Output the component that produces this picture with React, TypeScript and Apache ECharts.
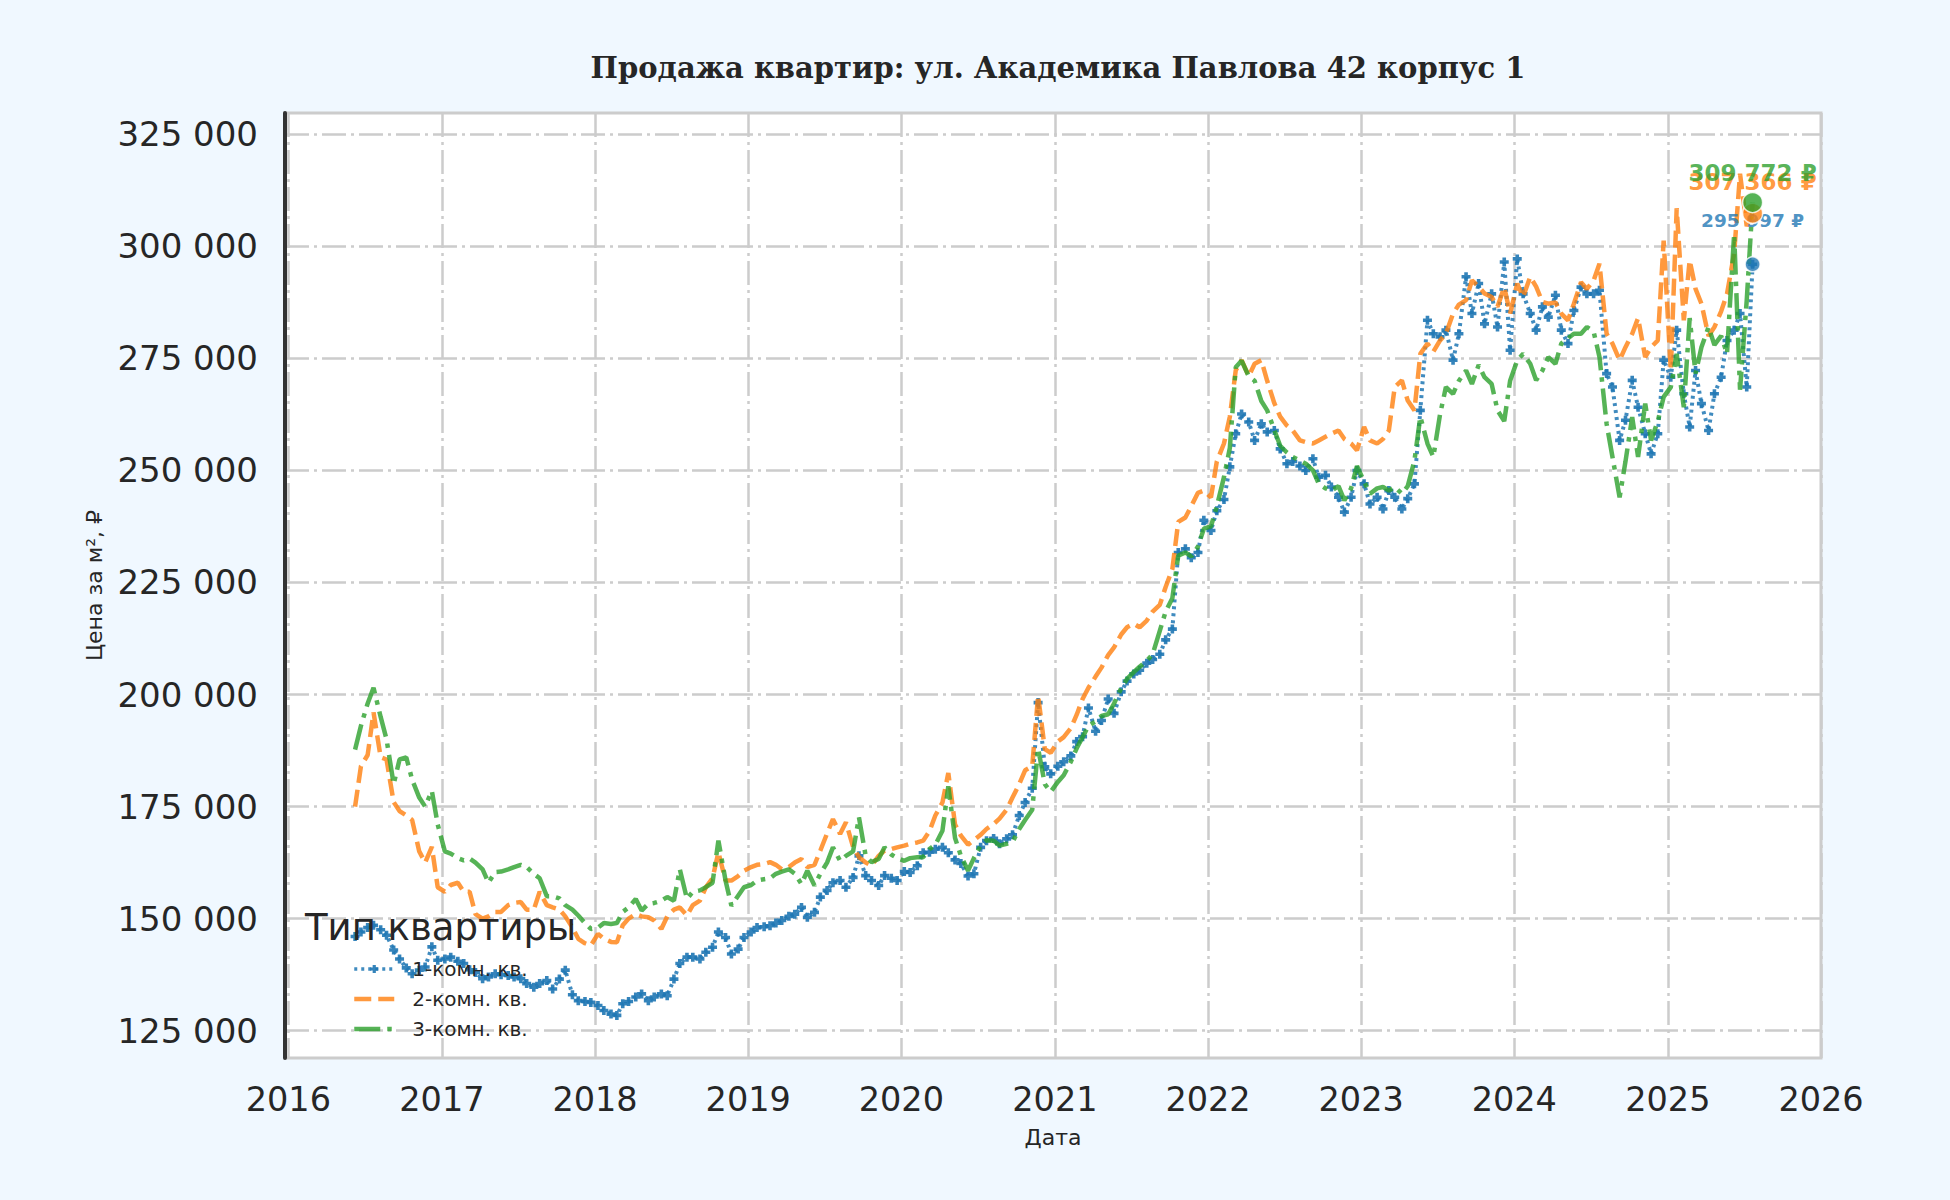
import React, { useEffect, useRef } from "react";
import * as echarts from "echarts";

// ---------- data ----------
const TITLE = "Продажа квартир: ул. Академика Павлова 42 корпус 1";
const SERIES_NAMES = ["1-комн. кв.", "2-комн. кв.", "3-комн. кв."];
const COLORS = ["#1f77b4", "#ff7f0e", "#2ca02c"];
const Y_TICKS = [125000, 150000, 175000, 200000, 225000, 250000, 275000, 300000, 325000];
const X_YEARS = [2016, 2017, 2018, 2019, 2020, 2021, 2022, 2023, 2024, 2025, 2026];

// Observation dates: the 8th and 22nd of each month, June 2016 .. July 2025
const FIRST_MONTH = { year: 2016, month: 6 };
const LAST_MONTH = { year: 2025, month: 7 };
const OBS_DAYS = [8, 22];

// Price per m², thousands of ₽ (one value per observation date)
const oneRoomK = [
  // 2016 (Jun-Dec)
  146, 147, 148, 148.5, 147.5, 146.3, 143, 141, 139, 137.7, 138.5, 139.2, 143.7, 140.7,
  // 2017
  141, 141.4, 140.5, 140, 138.6, 138, 136.6, 137, 137.7, 137.5, 137.3, 137,
  136.6, 135.5, 134.7, 135.5, 136.2, 134.3, 136.5, 138.5, 133, 131.7, 131.5, 131.3,
  // 2018
  130.6, 129.5, 128.7, 128.4, 131, 131.5, 132.5, 133.2, 131.7, 132.5, 133.2, 132.8,
  136.5, 140, 141.4, 141.4, 141, 142.5, 143.6, 147, 145.8, 142.1, 143.2, 145.8,
  // 2019
  147, 148, 148.2, 148.4, 149, 149.6, 150.5, 151, 152.5, 150.3, 151.4, 154.8,
  156.3, 158, 158.5, 157, 159.2, 164, 159.6, 158.5, 157.4, 159.6, 159, 158.5,
  // 2020
  160.5, 160.3, 161.8, 164.7, 164.8, 165.5, 165.9, 164.7, 163.1, 162.3, 159.5, 160,
  165.9, 167.4, 167.9, 166.7, 167.8, 168.7, 173, 175.9, 179.1, 198.2, 183.9, 182.3,
  // 2021
  184, 185, 186.3, 189.5, 190.6, 197, 191.8, 194.2, 199, 195.8, 200.6, 203,
  204.6, 205.4, 207, 207.8, 209, 212.2, 214.6, 231.7, 232.5, 230.5, 231.7, 238.9,
  // 2022
  236.6, 241, 243.5, 250.8, 258.2, 262.6, 260.8, 256.7, 260.4, 258.6, 258.9, 254.8,
  251.5, 252, 251, 250, 252.6, 248.5, 248.9, 246.3, 244, 240.7, 244, 250,
  // 2023
  247, 242.5, 244, 241.4, 245.5, 244, 241.4, 243.7, 247, 263.4, 283.5, 280.5,
  279.8, 281.3, 274.6, 280.5, 293.2, 285, 291.7, 282.7, 289.4, 282, 296.5, 276.8,
  // 2024
  297.2, 289.4, 285, 281.3, 286.5, 284.2, 289.1, 281.3, 278.3, 285.7, 290.9, 289.4,
  289.4, 290.2, 271.6, 268.6, 256.7, 261.2, 270.1, 264.1, 258.2, 253.7, 258.2, 274.6,
  // 2025 (Jan-Jul)
  270.8, 281.3, 267.1, 259.7, 272.3, 264.9, 258.9, 267.1, 270.8, 279, 281.3, 285, 268.6, 295.997,
];

const twoRoomK = [
  // 2016
  175, 184, 186.5, 196, 186, 185.5, 176, 174, 173, 172, 165, 162.5, 166, 157,
  // 2017
  156, 157.5, 158, 156, 156, 151, 150, 150.5, 151.5, 151.5, 153, 153.5,
  153.7, 152, 152, 156, 153, 152.5, 152, 150.5, 148, 145.5, 144.5, 144,
  // 2018
  146.6, 145.5, 144.8, 144.7, 148.5, 150, 151, 150.5, 150.3, 149.6, 147.7, 150.5,
  152, 152.5, 150.7, 153, 154, 157, 159, 164.8, 158.5, 158.5, 159.5, 160.7,
  // 2019
  161.5, 162, 162.2, 162.6, 162, 161, 161.5, 162.5, 163.3, 161.5, 162, 165.2,
  169, 172.2, 168.9, 171.5, 166, 163.7, 162.5, 161.8, 164, 165.2, 165.5, 165.9,
  // 2020
  166.3, 166.7, 167, 167.4, 169.5, 173, 175.9, 182.5, 171, 168.5, 166.5, 167.5,
  168.7, 170, 171.1, 172.3, 174.3, 177, 180, 183.1, 184, 199.8, 187.8, 187,
  // 2021
  189.5, 190.5, 192.5, 195.5, 199, 201.5, 204, 206, 208.8, 210.5, 213.4, 215,
  215.8, 215, 216.5, 218.5, 220, 224, 228, 238.5, 239.5, 242, 245, 245.5,
  // 2022
  244, 252, 256, 262, 272.3, 274.6, 271, 273.8, 274.6, 270, 265, 262,
  260, 258.9, 256.7, 256.3, 256, 256.7, 257.5, 258.2, 258.9, 257, 256, 254.5,
  // 2023
  259.7, 256.7, 256, 257, 258.9, 268.6, 270.1, 265.6, 263.4, 276, 278.3, 276.5,
  279, 280.5, 285, 287, 288, 292.4, 291, 289.5, 288.7, 286.5, 290.9, 285,
  // 2024
  291.7, 288.7, 293.2, 291, 287.6, 287.2, 287.5, 285, 283.5, 287.2, 292, 290.5,
  292.4, 296.1, 280.5, 278.3, 274.6, 277.5, 280.5, 284, 275.3, 277.5, 279, 301.3,
  // 2025
  272.3, 308.5, 283.5, 296.9, 290.5, 287.2, 280, 282, 285.5, 289.4, 298.4, 316.2, 304.5, 307.366,
];

const threeRoomK = [
  // 2016
  187.7, 193, 198, 201.5, 195, 190, 180, 185.5, 186, 181, 177, 175, 178.5, 171,
  // 2017
  165, 164.5, 163.5, 163, 163.4, 162.5, 161, 158, 160.4, 160.5, 161, 161.5,
  162, 161.5, 160, 159, 155, 155, 154.5, 153, 152, 150.7, 149, 147.7,
  // 2018
  148, 149, 148.8, 149, 151.5, 152.5, 154.4, 151.8, 153.3, 153.5, 154, 154.8,
  154, 161, 154.4, 156, 156.3, 157, 158, 167.4, 158.5, 152.9, 155.1, 157,
  // 2019
  157.5, 158.5, 158.8, 159, 160, 160.5, 161, 160, 157.7, 160.7, 157.4, 160,
  162.5, 165.9, 162.9, 164, 165, 172.6, 164, 162.6, 163.3, 165.9, 164.3, 163.5,
  // 2020
  162.9, 163.5, 163.7, 163.7, 165.5, 166.5, 169.6, 179.5, 168, 164, 160.7, 163.5,
  166.3, 167.5, 167.4, 166.3, 166.7, 167.1, 170, 172, 174.3, 188, 180, 178.3,
  // 2021
  180.5, 182, 185, 188, 190.5, 193, 194, 195.2, 195.6, 198, 201.4, 203.5,
  205, 206.2, 207.5, 209, 214.2, 218.5, 221.5, 231, 231.7, 230.8, 233, 237,
  // 2022
  237.5, 242, 248.5, 255, 273, 274.5, 271, 270, 265.5, 263.4, 259, 255.5,
  254, 253, 252.2, 251.5, 250, 247, 246, 245.5, 246.5, 243.3, 246, 251,
  // 2023
  247.5, 244.8, 246, 246.3, 245.5, 246.3, 244.8, 246.5, 252.2, 262, 256, 253,
  262.5, 268.6, 267.1, 270, 272.3, 269.3, 273.5, 270.8, 269.3, 263.4, 261, 270,
  // 2024
  274.6, 276, 273.8, 270.1, 272.3, 275.3, 273.8, 278.3, 279.5, 280.5, 280.5, 282,
  281, 275.3, 260.4, 253, 244, 252, 261.9, 253, 264.9, 256.7, 261, 266.4,
  // 2025
  268.6, 276, 264.1, 284, 271.6, 277.5, 282, 278, 280, 276, 302.8, 268, 288, 309.772,
];

// ---------- helpers ----------
const SANS = "'DejaVu Sans', sans-serif";
const SERIF = "'DejaVu Serif', serif";
const TEXT = "#262626";

function buildDates(): number[] {
  const out: number[] = [];
  for (let y = FIRST_MONTH.year; y <= LAST_MONTH.year; y++) {
    for (let m = 1; m <= 12; m++) {
      if (y === FIRST_MONTH.year && m < FIRST_MONTH.month) continue;
      if (y === LAST_MONTH.year && m > LAST_MONTH.month) continue;
      for (const d of OBS_DAYS) out.push(new Date(y, m - 1, d).getTime());
    }
  }
  return out;
}

const fmt = (v: number) =>
  String(Math.round(v)).replace(/\B(?=(\d{3})+(?!\d))/g, " ");

const PLUS = "path://M3,0H7V3H10V7H7V10H3V7H0V3H3Z";

export default function App() {
  const ref = useRef<HTMLDivElement>(null);

  useEffect(() => {
    if (!ref.current) return;
    const chart = echarts.init(ref.current, undefined, { renderer: "svg" });
    const dates = buildDates();
    const toPairs = (arr: number[]) =>
      arr.map((v, i) => [dates[i], Math.round(v * 1000)]);
    const all = [oneRoomK, twoRoomK, threeRoomK].map(toPairs);
    const yearTicks = X_YEARS.map((y) => new Date(y, 0, 1).getTime());

    const lineStyles = [
      { width: 4, type: [3, 4], opacity: 0.85 },
      { width: 4.5, type: [17, 7], opacity: 0.8 },
      { width: 4.5, type: [26, 7, 4.5, 7], opacity: 0.8 },
    ];

    const lineSeries = all.map((data, i) => ({
      type: "line",
      name: SERIES_NAMES[i],
      data,
      symbol: i === 0 ? PLUS : "circle",
      symbolSize: 9,
      showSymbol: i === 0,
      itemStyle: { color: COLORS[i], opacity: 0.9 },
      lineStyle: { color: COLORS[i], ...lineStyles[i] },
      silent: true,
      z: 2 + i,
    }));

    const labelCfg = [
      { fontSize: 18.5, distance: 26, size: 15 },
      { fontSize: 23, distance: 9, size: 20 },
      { fontSize: 23, distance: 7, size: 20 },
    ];
    const pointSeries = all.map((data, i) => ({
      type: "scatter",
      data: [data[data.length - 1]],
      symbol: "circle",
      symbolSize: labelCfg[i].size,
      itemStyle: { color: COLORS[i], borderColor: "#ffffff", borderWidth: 1.5 },
      label: {
        show: true,
        position: "top",
        distance: labelCfg[i].distance,
        formatter: (p: any) => fmt(p.value[1]) + " ₽",
        fontFamily: SANS,
        fontWeight: "bold",
        fontSize: labelCfg[i].fontSize,
        color: COLORS[i],
      },
      silent: true,
      z: 10 + i,
    }));

    const option = {
      animation: false,
      backgroundColor: "#f0f8ff",
      title: {
        text: TITLE,
        left: 1053,
        top: 48,
        textAlign: "center",
        textStyle: { fontFamily: SERIF, fontWeight: "bold", fontSize: 29, color: TEXT },
      },
      grid: {
        left: 285,
        right: 129,
        top: 113,
        bottom: 142,
        show: true,
        backgroundColor: "#ffffff",
        borderColor: "#cccccc",
        borderWidth: 3,
        outerBoundsMode: "none",
        containLabel: false,
      },
      legend: {
        data: SERIES_NAMES.map((n, i) =>
          i === 0
            ? { name: n, lineStyle: { width: 3.5 } }
            : { name: n, itemStyle: { opacity: 0 }, lineStyle: { width: 4.5 } }
        ),
        orient: "vertical",
        left: 352,
        top: 959,
        itemWidth: 40,
        itemHeight: 10,
        itemGap: 10,
        padding: 0,
        selectedMode: false,
        textStyle: {
          fontFamily: SANS,
          fontSize: 20,
          color: TEXT,
          lineHeight: 20,
          padding: [0, 0, 0, 13],
        },
      },
      graphic: [
        {
          type: "text",
          left: 305,
          top: 909,
          silent: true,
          style: { text: "Тип квартиры", fontFamily: SANS, fontSize: 37, fill: TEXT },
          z: 100,
        },
      ],
      xAxis: {
        type: "value",
        min: new Date(2015, 11, 24).getTime(),
        max: new Date(2026, 0, 1).getTime(),
        name: "Дата",
        nameLocation: "middle",
        nameGap: 68,
        nameTextStyle: { fontFamily: SANS, fontSize: 22, color: TEXT },
        axisLine: { show: false },
        axisTick: { show: false, customValues: yearTicks },
        axisLabel: {
          customValues: yearTicks,
          formatter: (v: number) => String(new Date(v).getFullYear()),
          fontFamily: SANS,
          fontSize: 33.5,
          color: TEXT,
          margin: 24,
          hideOverlap: false,
        },
        splitLine: {
          show: true,
          lineStyle: { color: "#cccccc", width: 2.5, type: [24, 5, 3, 5] },
        },
      },
      yAxis: {
        type: "value",
        min: 118900,
        max: 329750,
        name: "Цена за м², ₽",
        nameLocation: "middle",
        nameGap: 180,
        nameTextStyle: { fontFamily: SANS, fontSize: 22, color: TEXT },
        axisLine: { show: true, onZero: false, lineStyle: { color: "#333333", width: 4 } },
        axisTick: { show: false, customValues: Y_TICKS },
        axisLabel: {
          customValues: Y_TICKS,
          formatter: (v: number) => fmt(v),
          fontFamily: SANS,
          fontSize: 34,
          color: TEXT,
          margin: 27,
        },
        splitLine: {
          show: true,
          lineStyle: { color: "#cccccc", width: 2.5, type: [24, 5, 3, 5] },
        },
      },
      series: [...lineSeries, ...pointSeries],
    };

    chart.setOption(option as any);
    return () => chart.dispose();
  }, []);

  return (
    <div
      ref={ref}
      style={{ position: "absolute", left: 0, top: 0, width: 1950, height: 1200 }}
    />
  );
}
